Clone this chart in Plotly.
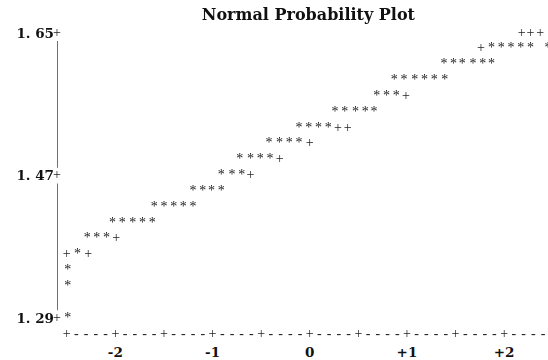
import numpy as np
import plotly.graph_objects as go

# ---------------- data ----------------
title_text = "Normal Probability Plot"

# observed data points ('*'): normal quantile, value
star_q = [-2.49,
          -2.49,
          -2.49,
          -2.39,
          -2.29, -2.19, -2.09,
          -2.03, -1.93, -1.82, -1.72, -1.62,
          -1.60, -1.50, -1.40, -1.30, -1.20,
          -1.20, -1.10, -1.01, -0.91,
          -0.91, -0.80, -0.70,
          -0.72, -0.61, -0.51, -0.41,
          -0.42, -0.31, -0.21, -0.11,
          -0.11, -0.01, 0.09, 0.19,
          0.26, 0.36, 0.47, 0.57, 0.66,
          0.69, 0.79, 0.89,
          0.87, 0.97, 1.08, 1.18, 1.28, 1.39,
          1.38, 1.48, 1.57, 1.68, 1.78, 1.87,
          1.87, 1.97, 2.07, 2.17, 2.27, 2.45,
          2.46]
star_y = [1.29,
          1.33,
          1.35,
          1.37,
          1.39, 1.39, 1.39,
          1.41, 1.41, 1.41, 1.41, 1.41,
          1.43, 1.43, 1.43, 1.43, 1.43,
          1.45, 1.45, 1.45, 1.45,
          1.47, 1.47, 1.47,
          1.49, 1.49, 1.49, 1.49,
          1.51, 1.51, 1.51, 1.51,
          1.53, 1.53, 1.53, 1.53,
          1.55, 1.55, 1.55, 1.55, 1.55,
          1.57, 1.57, 1.57,
          1.59, 1.59, 1.59, 1.59, 1.59, 1.59,
          1.61, 1.61, 1.61, 1.61, 1.61, 1.61,
          1.63, 1.63, 1.63, 1.63, 1.63, 1.63,
          1.65]

# reference normal line ('+') where visible
ref_q = [-2.50, -2.28, -1.99, -0.61, -0.31, 0.00, 0.29, 0.39, 0.99, 1.76, 2.18, 2.27, 2.37]
ref_y = [1.37, 1.37, 1.39, 1.47, 1.49, 1.51, 1.53, 1.53, 1.57, 1.63, 1.65, 1.65, 1.65]

# axes
y_tick_vals = [1.29, 1.47, 1.65]
y_tick_text = ["1. 29", "1. 47", "1. 65"]
x_tick_vals = [-2, -1, 0, 1, 2]
x_tick_text = ["-2", "-1", "0", "+1", "+2"]
x_axis_start, x_axis_stop, x_axis_step, x_major_step = -2.5, 2.4, 0.1, 0.5
row_step = 0.02

# ---------------- figure ----------------
x_range = [-2.6, 2.451]
y_range = [1.27, 1.6665]
axis_col = x_range[0]
axis_row = y_range[0]

glyph_font = dict(family="Liberation Serif", size=14, color="#1a1a1a")
label_font = dict(family="DejaVu Serif", size=13.5, color="#111111", weight="bold")
glyph_opacity = 0.99  # forces grayscale anti-aliasing of the small glyphs

fig = go.Figure()

# vertical axis drawn as segments between the labelled rows
seg_x, seg_y = [], []
for a, b in zip(y_tick_vals[:-1], y_tick_vals[1:]):
    seg_x += [axis_col, axis_col, None]
    seg_y += [a + row_step / 2, b - row_step / 2, None]
fig.add_trace(go.Scatter(x=seg_x, y=seg_y, mode="lines",
                         line=dict(color="#333333", width=1.4),
                         hoverinfo="skip", showlegend=False, cliponaxis=False))

# horizontal axis made of '+' and '-' characters, plus the '+' marks on the vertical axis
ax_q = list(np.round(np.arange(x_axis_start, x_axis_stop + 1e-9, x_axis_step), 1))
ax_txt = ["+" if abs(v / x_major_step - round(v / x_major_step)) < 1e-6 else "-" for v in ax_q]
ax_y = [axis_row] * len(ax_q)
ax_q += [axis_col] * len(y_tick_vals)
ax_y += list(y_tick_vals)
ax_txt += ["+"] * len(y_tick_vals)
fig.add_trace(go.Scatter(x=ax_q, y=ax_y, mode="text",
                         text=ax_txt, textfont=glyph_font, textposition="middle center",
                         opacity=glyph_opacity, showlegend=False, cliponaxis=False))

# reference line
fig.add_trace(go.Scatter(x=ref_q, y=ref_y, mode="text", text=["+"] * len(ref_q),
                         textfont=glyph_font, textposition="middle center",
                         opacity=glyph_opacity, showlegend=False, cliponaxis=False))
# data
fig.add_trace(go.Scatter(x=star_q, y=star_y, mode="text", text=["*"] * len(star_q),
                         textfont=glyph_font, textposition="middle center",
                         opacity=glyph_opacity, showlegend=False, cliponaxis=False))

fig.update_layout(
    width=548, height=360,
    margin=dict(l=57, r=0, t=20, b=26),
    paper_bgcolor="white", plot_bgcolor="white",
    title=dict(text=title_text, x=0.512, xref="paper", xanchor="center",
               y=1 - 14 / 360, yref="container", yanchor="middle",
               font=dict(family="DejaVu Serif", size=16, color="#111111", weight="bold")),
    xaxis=dict(range=x_range, showgrid=False, zeroline=False, showline=False,
               tickvals=x_tick_vals, ticktext=x_tick_text, ticks="",
               tickfont=label_font, ticklabelstandoff=8),
    yaxis=dict(range=y_range, showgrid=False, zeroline=False, showline=False,
               tickvals=y_tick_vals, ticktext=y_tick_text, ticks="",
               tickfont=label_font, ticklabelstandoff=2),
)

fig.write_html("out.html")
